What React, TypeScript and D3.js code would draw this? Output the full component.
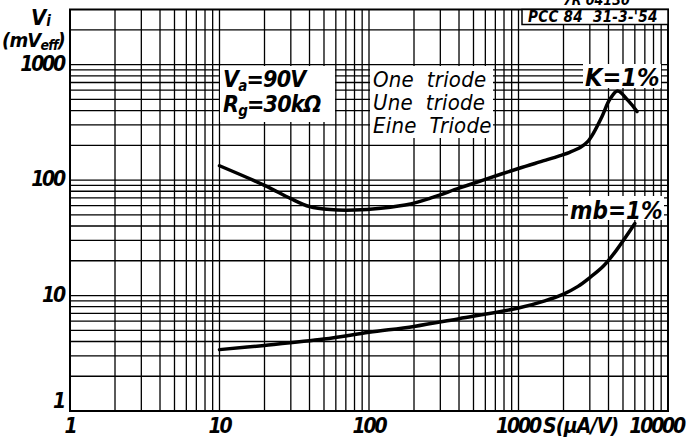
import * as d3 from 'd3'

// K = 1% curve (S in µA/V, Vi in mVeff)
const kS = [10, 20, 30, 40, 55, 80, 120, 190, 260, 400, 580, 1000, 1500, 1900, 2200, 2600, 2900, 3200, 3600, 4100, 4600, 5400, 6200]
const kV = [133, 90, 69, 59, 55.5, 55, 57, 62, 70, 85, 100, 126, 148, 163, 174, 192, 215, 260, 350, 505, 590, 490, 392]

// mb = 1% curve
const mbS = [10, 20, 50, 100, 200, 400, 1000, 1500, 2000, 2500, 3000, 3700, 4500, 6000]
const mbV = [3.4, 3.7, 4.2, 4.8, 5.4, 6.3, 7.8, 9.0, 10.3, 12.0, 14.3, 18, 24.5, 42]

const xTicks = ['1', '10', '100']
const yTicks = ['1', '10', '100', '1000']

const FONT = '"DejaVu Sans Condensed", "DejaVu Sans", sans-serif'

const App = () => {
    const left = 70, right = 668, top = 9.5, bottom = 411

    const x = d3.scaleLog().domain([1, 10000]).range([left, right])
    const y = d3.scaleLog().domain([1, 3000]).range([bottom, top])

    // grid values 1..9 per decade
    const xGrid: number[] = []
    for (let e = 0; e < 4; e++) for (let m = 1; m < 10; m++) xGrid.push(m * Math.pow(10, e))
    const yGrid: number[] = []
    for (let e = 0; e < 4; e++) for (let m = 1; m < 10; m++) {
        const v = m * Math.pow(10, e)
        if (v < 3000) yGrid.push(v)
    }

    const line = d3.line<number[]>()
        .x(d => x(d[0]))
        .y(d => y(d[1]))
        .curve(d3.curveCatmullRom.alpha(0.5))

    const kData = kS.map((s, i) => [s, kV[i]])
    const mbData = mbS.map((s, i) => [s, mbV[i]])

    const txt = {fontFamily: FONT, fontStyle: 'italic', fontWeight: 'bold', fill: '#000'} as const
    const num = {...txt, fontSize: 21, letterSpacing: -2.2}

    return (
        <svg width={692} height={442} style={{position: 'absolute', left: 0, top: 0, background: '#fff'}}>
            {/* grid */}
            {xGrid.map(v => (
                <line key={'x' + v} x1={x(v)} x2={x(v)} y1={top} y2={bottom} stroke="#000" strokeWidth={1.3}/>
            ))}
            {yGrid.map(v => (
                <line key={'y' + v} x1={left} x2={right} y1={y(v)} y2={y(v)} stroke="#000" strokeWidth={1.3}/>
            ))}
            <rect x={left} y={top} width={right - left} height={bottom - top} fill="none" stroke="#000" strokeWidth={2}/>

            {/* curves */}
            <path d={line(kData) || ''} fill="none" stroke="#000" strokeWidth={3.5} strokeLinecap="round"/>
            <path d={line(mbData) || ''} fill="none" stroke="#000" strokeWidth={3.5} strokeLinecap="round"/>

            {/* header box */}
            <rect x={522} y={top} width={right - 522} height={15} fill="#fff" stroke="#000" strokeWidth={1.5}/>
            <text x={528} y={22} fontSize={15} letterSpacing={0.3} style={{whiteSpace: 'pre'}} {...txt}>PCC 84  31-3-'54</text>
            <text x={563} y={5} fontSize={14} {...txt}>7R 04130</text>

            {/* annotation boxes */}
            <rect x={220} y={66} width={115} height={56} fill="#fff"/>
            <text x={223} y={87} fontSize={23} letterSpacing={-0.8} {...txt}>V<tspan fontSize={15} dy={4}>a</tspan><tspan dy={-4}>=90V</tspan></text>
            <text x={223} y={112} fontSize={23} letterSpacing={-0.8} {...txt}>R<tspan fontSize={15} dy={4}>g</tspan><tspan dy={-4}>=30kΩ</tspan></text>

            <rect x={370} y={66} width={123} height={72} fill="#fff"/>
            <text x={373} y={87} fontSize={22} letterSpacing={0.2} style={{whiteSpace: 'pre'}} {...txt} fontWeight="normal">One  triode</text>
            <text x={373} y={110} fontSize={22} letterSpacing={0.2} style={{whiteSpace: 'pre'}} {...txt} fontWeight="normal">Une  triode</text>
            <text x={373} y={133} fontSize={22} letterSpacing={0.2} style={{whiteSpace: 'pre'}} {...txt} fontWeight="normal">Eine  Triode</text>

            <rect x={583} y={64} width={78} height={24} fill="#fff"/>
            <text x={585} y={86} fontSize={25} {...txt}>K=1%</text>
            <rect x={568} y={196} width={96} height={24} fill="#fff"/>
            <text x={570} y={219} fontSize={24} {...txt}>mb=1%</text>

            {/* axis labels */}
            {yTicks.map(t => (
                <text key={'yl' + t} x={64} y={t === '1' ? 402 : y(+t)} dominantBaseline="middle" textAnchor="end" {...num}>{t}</text>
            ))}
            {xTicks.map(t => (
                <text key={'xl' + t} x={x(+t)} y={433} textAnchor="middle" {...num}>{t}</text>
            ))}
            <text x={518} y={433} textAnchor="middle" {...num}>1000</text>
            <text x={543} y={433} fontSize={21} letterSpacing={-0.8} {...txt}>S(µA/V)</text>
            <text x={684} y={433} textAnchor="end" {...num}>10000</text>

            <text x={31} y={25} fontSize={22} {...txt}>V<tspan fontSize={15} dy={1}>i</tspan></text>
            <text x={2} y={47} fontSize={20} letterSpacing={-0.8} {...txt}>(mV<tspan fontSize={14} dy={3}>eff</tspan><tspan dy={-3}>)</tspan></text>
        </svg>
    )
}

export default App
